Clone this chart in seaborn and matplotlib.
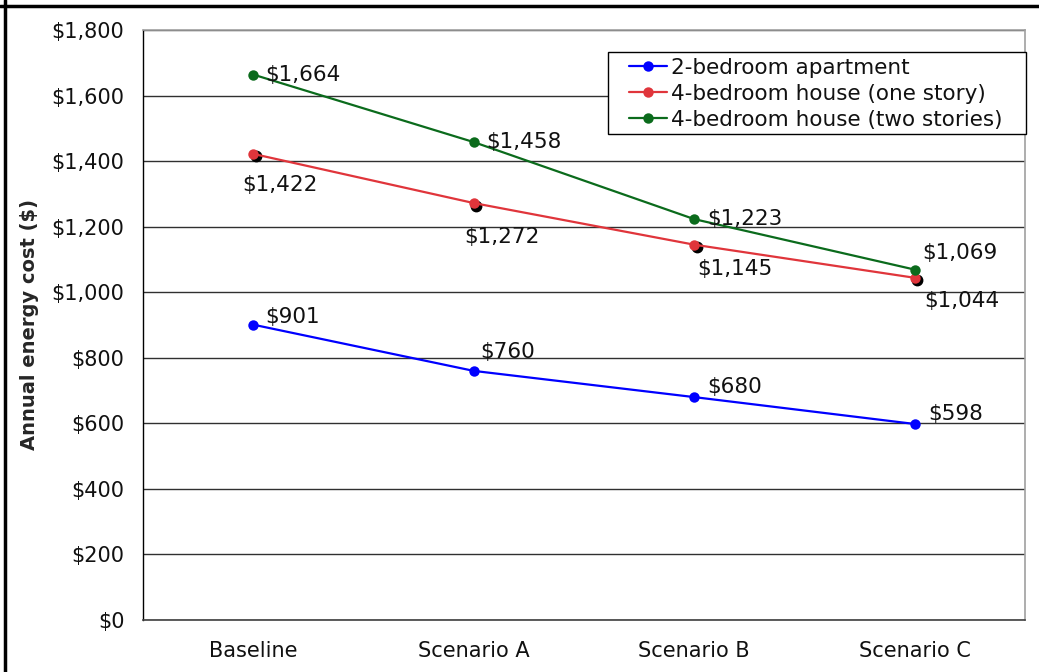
import matplotlib
matplotlib.use("Agg")
import matplotlib.pyplot as plt
import matplotlib.transforms as mtransforms
from matplotlib.lines import Line2D
from matplotlib.patches import Rectangle
from matplotlib.ticker import FuncFormatter, FixedLocator
import seaborn as sns
import pandas as pd

scenarios = ["Baseline", "Scenario A", "Scenario B", "Scenario C"]
series_names = [
    "2-bedroom apartment",
    "4-bedroom house (one story)",
    "4-bedroom house (two stories)",
]
apartment_2br = [901, 760, 680, 598]
house_4br_one = [1422, 1272, 1145, 1044]
house_4br_two = [1664, 1458, 1223, 1069]
y_ticks = [0, 200, 400, 600, 800, 1000, 1200, 1400, 1600, 1800]

series_values = [apartment_2br, house_4br_one, house_4br_two]
colors = ["#0000FF", "#E0353B", "#0B6B1C"]

# label offsets in pixels (dx, dy)
label_offsets = [
    [(12, 8), (7, 19), (13, 10), (14, 10)],
    [(-11, -31), (-10, -34), (3, -24), (10, -23)],
    [(12, 0), (13, 0), (13, 0), (7, 17)],
]

rows = []
for name, vals in zip(series_names, series_values):
    for sc, v in zip(scenarios, vals):
        rows.append({"Scenario": sc, "Cost": v, "Series": name})
df = pd.DataFrame(rows)

sns.set_style("white")
plt.rcParams["font.family"] = ["DejaVu Sans"]

W, H = 1039, 672
fig = plt.figure(figsize=(W / 100, H / 100), dpi=100)
ax = fig.add_axes([143 / W, 52 / H, (1025 - 143) / W, (620 - 30) / H])

# shadow dots under the one-story house markers
shadow = mtransforms.offset_copy(ax.transData, fig=fig, x=2.5, y=-2.5, units="dots")
ax.plot(range(len(scenarios)), house_4br_one, linestyle="none", marker="o",
        markersize=7.5, color="black", transform=shadow, zorder=2)

for name, vals, col in zip(series_names, series_values, colors):
    sub = df[df["Series"] == name]
    sns.lineplot(data=sub, x="Scenario", y="Cost", ax=ax, color=col, marker="o",
                 markersize=7.5, markeredgewidth=0, linewidth=1.6, label=name,
                 sort=False, zorder=3)

for vals, offs in zip(series_values, label_offsets):
    for i, (v, (dx, dy)) in enumerate(zip(vals, offs)):
        ax.annotate(f"${v:,}", xy=(i, v), xytext=(dx, dy), textcoords="offset pixels",
                    ha="left", va="center", fontsize=15.5, color="#111111", zorder=4)

ax.set_xlim(-0.5, 3.5)
ax.set_ylim(0, 1800)
ax.set_yticks(y_ticks)
ax.yaxis.set_major_formatter(FuncFormatter(lambda v, p: f"${int(v):,}"))
ax.set_xticks(range(len(scenarios)))
ax.set_xticklabels(scenarios)
ax.xaxis.set_minor_locator(FixedLocator([-0.5, 0.5, 1.5, 2.5, 3.5]))
ax.tick_params(axis="x", which="major", length=0, pad=15, labelsize=15, labelcolor="#111111")
ax.tick_params(axis="x", which="minor", length=5, width=1, color="#404040", direction="out")
ax.tick_params(axis="y", length=5, width=1, color="#404040", direction="out", pad=8.5,
               labelsize=15, labelcolor="#111111")
ax.set_xlabel("")
ax.set_ylabel("Annual energy cost ($)", fontsize=14, fontweight="bold", labelpad=9)

ax.grid(axis="y", color="#303030", linewidth=1)
ax.set_axisbelow(True)
for side in ["top", "right"]:
    ax.spines[side].set_color("#A0A0A0")
    ax.spines[side].set_linewidth(1.2)
ax.spines["left"].set_color("#000000")
ax.spines["left"].set_linewidth(1)
ax.spines["bottom"].set_color("#404040")
ax.spines["bottom"].set_linewidth(1.2)

# legend box
box = Rectangle((608 / W, 1 - 134 / H), (1026 - 608) / W, (134 - 52) / H,
                transform=fig.transFigure, facecolor="white", edgecolor="black",
                linewidth=1, zorder=5, clip_on=False)
ax.add_artist(box)
leg = ax.legend(loc="upper left", bbox_to_anchor=(629 / W, 1 - 57.5 / H),
                bbox_transform=fig.transFigure, borderaxespad=0, borderpad=0,
                fontsize=15.5, frameon=False, handlelength=1.75, handletextpad=0.2,
                labelspacing=0.28)
leg.set_zorder(6)
for t in leg.get_texts():
    t.set_color("#111111")

# outer frame on top and left
fig.add_artist(Line2D([0, 1], [1 - 5.5 / H, 1 - 5.5 / H], transform=fig.transFigure,
                      color="black", linewidth=2.5))
fig.add_artist(Line2D([4.5 / W, 4.5 / W], [0, 1], transform=fig.transFigure,
                      color="black", linewidth=2.5))

fig.savefig("out.png", dpi=100)
